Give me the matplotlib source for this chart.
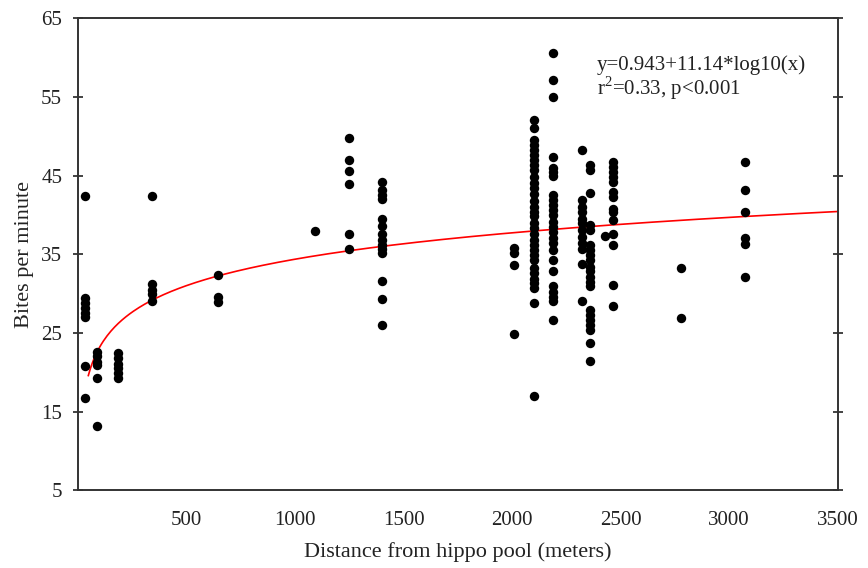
import numpy as np
import matplotlib.pyplot as plt
import matplotlib as mpl

mpl.rcParams.update({
    'font.family': 'serif',
    'font.serif': ['Liberation Serif', 'DejaVu Serif'],
    'mathtext.fontset': 'custom',
    'mathtext.rm': 'Liberation Serif',
})

# distance of each sampling site (m) and bites per minute observed there
dist_sites = [30, 85, 185, 340, 645, 1090, 1250, 1400, 2010, 2100,
              2190, 2320, 2360, 2430, 2465, 2780, 3075]

b30 = [42.4, 29.4, 28.8, 28.1, 27.5, 27.0, 20.8, 16.7]
b85 = [22.6, 22.0, 21.3, 20.9, 19.2, 13.2]
b185 = [22.4, 21.8, 21.1, 20.5, 19.9, 19.3]
b340 = [42.4, 31.2, 30.5, 29.9, 29.1]
b645 = [32.4, 29.5, 28.9]
b1090 = [38.0]
b1250 = [49.8, 47.0, 45.6, 43.9, 37.6, 35.6]
b1400 = [44.2, 43.1, 42.5, 42.0, 39.5, 38.6, 37.6, 36.8, 36.2, 35.6,
         35.1, 31.6, 29.3, 26.0]
b2010 = [35.8, 35.2, 33.6, 24.9]
b2100 = [52.0, 51.0, 49.5, 48.9, 48.2, 47.6, 47.0, 46.3, 45.7, 44.8,
         44.0, 43.4, 42.7, 41.7, 41.0, 40.4, 39.8, 38.9, 38.3, 37.6,
         36.8, 36.2, 35.5, 34.9, 34.3, 33.2, 32.6, 31.9, 31.3, 30.7,
         28.8, 17.0]
b2190 = [60.6, 57.2, 55.0, 47.4, 45.9, 45.4, 45.0, 42.5, 41.9, 41.2,
         40.6, 40.0, 39.1, 38.5, 37.8, 37.0, 36.4, 35.5, 34.3, 32.8,
         30.9, 30.2, 29.6, 29.0, 26.6]
b2320 = [48.2, 41.9, 41.0, 40.4, 39.5, 38.9, 38.1, 37.2, 36.4, 35.7,
         33.8, 29.0]
b2360 = [46.3, 45.7, 42.8, 38.7, 38.1, 36.2, 35.5, 34.9, 34.3, 33.4,
         32.8, 32.1, 31.5, 30.9, 27.9, 27.3, 26.6, 26.0, 25.4, 23.7, 21.4]
b2430 = [37.3]
b2465 = [46.7, 46.1, 45.5, 44.8, 44.2, 42.9, 42.3, 40.8, 40.4, 39.3,
         37.6, 36.2, 31.1, 28.4]
b2780 = [33.2, 26.9]
b3075 = [46.7, 43.1, 40.4, 37.0, 36.3, 32.1]

bites_groups = [b30, b85, b185, b340, b645, b1090, b1250, b1400, b2010,
                b2100, b2190, b2320, b2360, b2430, b2465, b2780, b3075]

# fitted model from the figure
fit_a, fit_b = 0.943, 11.14

x = np.concatenate([[d] * len(g) for d, g in zip(dist_sites, bites_groups)])
y = np.concatenate(bites_groups)

fig = plt.figure(figsize=(8.68, 5.68), dpi=100)
ax = fig.add_axes([0.09, 0.137, 0.875, 0.831])

ax.scatter(x, y, s=46, color='black', zorder=3, linewidths=0)

xf = np.linspace(47, 3500, 400)
ax.plot(xf, fit_a + fit_b * np.log10(xf), color='red', lw=1.2, zorder=2)

ax.set_xlim(0, 3500)
ax.set_ylim(5, 65)
ax.set_xticks([500, 1000, 1500, 2000, 2500, 3000, 3500])
ax.set_yticks(np.arange(5, 66, 10))
ax.tick_params(axis='x', length=0, labelsize=15, pad=15, colors='#222222')
ax.tick_params(axis='y', direction='inout', length=7, width=1.2,
               labelsize=15, right=True, pad=8, colors='#222222')
for sp in ax.spines.values():
    sp.set_linewidth(1.4)
    sp.set_color('#333333')

ax.set_xlabel('Distance from hippo pool (meters)', fontsize=16,
              labelpad=9, color='#222222')
ax.set_ylabel('Bites per minute', fontsize=16, labelpad=5, color='#222222')

ax.text(0.683, 0.922, 'y=0.943+11.14*log10(x)', transform=ax.transAxes,
        fontsize=15, va='top', color='#222222')
ax.text(0.683, 0.880, r'r$^2$=0.33, p<0.001', transform=ax.transAxes,
        fontsize=15, va='top', color='#222222')

fig.savefig('out.png', dpi=100)
